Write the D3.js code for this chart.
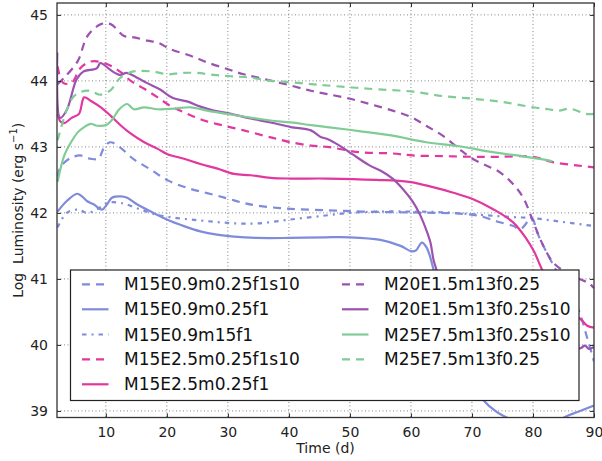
<!DOCTYPE html>
<html>
<head>
<meta charset="utf-8">
<script src="https://cdn.jsdelivr.net/npm/d3@7"></script>
<style>
  html, body { margin: 0; padding: 0; background: #fff; }
  svg { display: block; font-family: "DejaVu Sans", sans-serif; }
</style>
</head>
<body>
<svg id="chart" width="602" height="461"></svg>
<script>
// Light curves: time (days) vs log luminosity (erg/s)
const m15e09_s10 = [[2.1,42.55],[2.6,42.7],[4.2,42.83],[5.8,42.87],[7.5,42.82],[8.8,42.82],[9.65,42.98],[10.7,43.07],[12.1,43.01],[14.6,42.81],[17.3,42.66],[20,42.5],[23.3,42.38],[26.6,42.3],[29.9,42.22],[32.6,42.15],[34.8,42.11],[40.3,42.06],[46.3,42.04],[52,42.02],[58,42.01],[64,42.0],[68,41.99],[71.4,41.95],[74.1,41.87],[76.8,41.8],[77.9,41.75],[79.8,41.92],[80.7,41.7],[81.7,41.5],[82.8,41.3],[84,41.1],[86,40.8],[87.6,40.5],[88.9,40.1],[90,39.75]];
const m15e09 = [[2.1,42.02],[3.6,42.18],[5.3,42.29],[6.1,42.25],[6.9,42.18],[8.0,42.13],[9.4,42.05],[10.2,42.13],[11.0,42.23],[12.4,42.25],[13.5,42.23],[15.1,42.13],[17.8,42.0],[20,41.9],[22.8,41.8],[25.5,41.72],[28.2,41.67],[31,41.64],[34.8,41.62],[40,41.62],[46,41.63],[50,41.63],[55,41.59],[58.3,41.5],[60,41.42],[60.8,41.43],[61.8,41.55],[62.6,41.47],[63.7,41.14],[65,40.5],[67,39.9],[69.5,39.5],[71.8,39.17],[74.1,38.98],[75.7,38.9],[78,38.8],[83,38.8],[85.5,38.92],[87.2,38.98],[90,39.08]];
const m15e09_m15 = [[2.1,41.78],[3.6,42.0],[5.5,42.05],[6.9,42.0],[8.5,42.05],[10.2,42.15],[12.5,42.15],[15.7,42.05],[18.4,41.97],[21.7,41.92],[25,41.89],[28.3,41.86],[31.6,41.84],[34.8,41.84],[40.3,41.9],[46,41.96],[50,42.0],[55,42.02],[60,42.02],[65,42.01],[71.4,41.97],[76,41.94],[80,41.92],[84.3,41.87],[90,41.8]];
const m15e25_s10 = [[2.1,44.22],[3.0,43.97],[4.4,43.97],[5.8,44.19],[7.4,44.29],[9.0,44.29],[10.8,44.23],[12.5,44.13],[14.1,44.0],[16.3,43.88],[18.5,43.75],[20.6,43.62],[23.4,43.5],[26.1,43.4],[29.4,43.32],[32.6,43.25],[35.9,43.17],[38.1,43.12],[40.3,43.07],[43.6,43.02],[46.3,43.0],[51.5,42.92],[57,42.9],[60.3,42.87],[65.2,42.86],[70.1,42.85],[74.5,42.85],[80,42.85],[83.2,42.77],[87.1,42.72],[90,42.69]];
const m15e25 = [[2.1,43.5],[2.6,43.38],[3.2,43.36],[4.4,43.44],[5.6,43.5],[6.45,43.75],[7.5,43.7],[9.2,43.6],[10.8,43.47],[12.5,43.32],[14.1,43.2],[16.3,43.07],[18.5,42.97],[20.1,42.89],[22.8,42.82],[25.5,42.74],[28.3,42.67],[31,42.59],[33.7,42.57],[37,42.53],[40.3,42.52],[46.3,42.52],[54.3,42.5],[59.7,42.47],[63.6,42.39],[66.8,42.31],[70.1,42.21],[73.4,42.06],[76.7,41.86],[78.9,41.61],[80.2,41.41],[81.5,41.14],[83.5,40.8],[85.5,40.55],[87.8,40.39],[88.9,40.29],[90,40.26]];
const m20e15 = [[2.1,43.95],[3.2,44.05],[5.4,44.3],[7.0,44.68],[9.2,44.86],[10.8,44.86],[13.0,44.68],[14.6,44.66],[16.8,44.61],[18.5,44.58],[20.6,44.48],[23.9,44.38],[26.6,44.28],[29.9,44.18],[32.6,44.1],[35.9,44.03],[40.3,43.93],[43.6,43.85],[46.3,43.8],[50,43.73],[53.2,43.65],[57,43.55],[60.1,43.45],[62.5,43.32],[65.2,43.17],[67.9,42.97],[70.1,42.82],[72.3,42.72],[74.5,42.62],[76.5,42.46],[78.4,42.23],[80.1,41.85],[81.7,41.5],[83.4,41.24],[85.6,41.09],[87.8,40.99],[89.1,40.94],[90,40.86]];
const m20e15_s10 = [[2.05,44.43],[2.5,43.44],[3.6,43.56],[5.2,44.02],[6.3,44.14],[8.5,44.19],[9.1,44.27],[9.6,44.25],[10.7,44.17],[12.3,44.09],[13.4,44.12],[14.9,44.06],[16.7,43.97],[18.9,43.87],[21,43.74],[23.3,43.69],[25.5,43.61],[27.7,43.55],[30.5,43.5],[33.7,43.43],[37,43.37],[40.3,43.3],[43.6,43.25],[45.2,43.15],[46.3,43.12],[48.3,43.02],[50.4,42.89],[53.2,42.72],[55.4,42.62],[57,42.52],[58.6,42.37],[60.3,42.17],[61.5,41.97],[62.6,41.72],[63.2,41.55],[63.7,41.29],[64.3,41.1],[65.5,40.6],[67,40.3],[70,40.15],[75,40.05],[80,40.0],[85,39.97],[87.8,39.95],[88.5,39.99],[89.2,39.94],[90,39.97]];
const m25e75_s10 = [[2.1,42.47],[3.2,42.87],[4.3,43.07],[5.4,43.22],[6.45,43.3],[7.5,43.35],[8.6,43.32],[10,43.33],[11.1,43.42],[12.2,43.57],[13.5,43.65],[14.6,43.57],[16.3,43.6],[18.5,43.57],[21.2,43.58],[23.9,43.6],[26.6,43.55],[29.9,43.5],[33.2,43.45],[37,43.4],[40.3,43.37],[43.6,43.33],[46.3,43.3],[51.5,43.24],[57,43.17],[62.5,43.07],[67.9,43.01],[73.4,42.92],[78.9,42.85],[81.6,42.81],[83.2,42.78]];
const m25e75 = [[2.1,43.1],[3.6,43.56],[4.7,43.76],[6.1,43.84],[7.5,43.85],[9,43.79],[10.8,43.86],[12.3,44.04],[14.3,44.14],[15.7,44.15],[17.9,44.14],[20,44.1],[22.3,44.12],[25,44.12],[27.7,44.09],[30.5,44.07],[33.7,44.05],[37,44.0],[40.3,43.98],[43.6,43.95],[46.3,43.93],[50.4,43.9],[54.8,43.87],[60.1,43.84],[65.2,43.77],[70.1,43.73],[75,43.68],[80,43.6],[82.5,43.57],[84.3,43.55],[86,43.58],[88.7,43.5],[90,43.5]];

const seriesNames = ["M15E0.9m0.25f1s10","M15E0.9m0.25f1","M15E0.9m15f1","M15E2.5m0.25f1s10","M15E2.5m0.25f1","M20E1.5m13f0.25","M20E1.5m13f0.25s10","M25E7.5m13f0.25s10","M25E7.5m13f0.25"];
const seriesData = [m15e09_s10, m15e09, m15e09_m15, m15e25_s10, m15e25, m20e15, m20e15_s10, m25e75_s10, m25e75];
const seriesColor = ["#7f8bdb","#7f8bdb","#7f8bdb","#e2379f","#e2379f","#9c52b0","#9c52b0","#80cc96","#80cc96"];
const seriesStyle = ["dash","solid","dashdot","dash","solid","dash","solid","solid","dash"];

const xTicks = [10,20,30,40,50,60,70,80,90];
const yTicks = [39,40,41,42,43,44,45];

const dashes = { solid: null, dash: "8,6", dashdot: "4.5,5,2,5" };

const svg = d3.select("#chart");
const pLeft = 57, pRight = 594, pTop = 3, pBottom = 417.5;

const x = d3.scaleLinear().domain([2, 90]).range([pLeft, pRight]);
const y = d3.scaleLinear().domain([38.9, 45.18]).range([pBottom, pTop]);

svg.append("defs").append("clipPath").attr("id", "plotclip")
  .append("rect").attr("x", pLeft).attr("y", pTop).attr("width", pRight - pLeft).attr("height", pBottom - pTop);

// grid
const grid = svg.append("g").attr("stroke", "#666").attr("stroke-width", 0.8).attr("stroke-dasharray", "1,2.5");
xTicks.filter(t => t < 90).forEach(t => {
  grid.append("line").attr("x1", x(t)).attr("x2", x(t)).attr("y1", pTop).attr("y2", pBottom);
});
yTicks.forEach(t => {
  grid.append("line").attr("x1", pLeft).attr("x2", pRight).attr("y1", y(t)).attr("y2", y(t));
});

// curves
const line = d3.line().x(d => x(d[0])).y(d => y(d[1])).curve(d3.curveCatmullRom.alpha(0.5));
const curves = svg.append("g").attr("clip-path", "url(#plotclip)");
seriesData.forEach((data, i) => {
  curves.append("path")
    .attr("d", line(data))
    .attr("fill", "none")
    .attr("stroke", seriesColor[i])
    .attr("stroke-width", 2.2)
    .attr("stroke-linejoin", "round")
    .attr("stroke-dasharray", dashes[seriesStyle[i]]);
});

// axes with inward ticks on all sides
const xAxisB = d3.axisBottom(x).tickValues(xTicks).tickSizeInner(-4).tickSizeOuter(0).tickPadding(10).tickFormat(d3.format("d"));
const xAxisT = d3.axisTop(x).tickValues(xTicks).tickSizeInner(-4).tickSizeOuter(0).tickFormat("");
const yAxisL = d3.axisLeft(y).tickValues(yTicks).tickSizeInner(-4).tickSizeOuter(0).tickPadding(9).tickFormat(d3.format("d"));
const yAxisR = d3.axisRight(y).tickValues(yTicks).tickSizeInner(-4).tickSizeOuter(0).tickFormat("");

function styleAxis(g) {
  g.select(".domain").remove();
  g.selectAll(".tick line").attr("stroke", "#222").attr("stroke-width", 1);
  g.selectAll(".tick text").attr("fill", "#222").style("font-size", "14px").style("font-family", "DejaVu Sans");
}
svg.append("g").attr("transform", `translate(0,${pBottom})`).call(xAxisB).call(styleAxis);
svg.append("g").attr("transform", `translate(0,${pTop})`).call(xAxisT).call(styleAxis);
svg.append("g").attr("transform", `translate(${pLeft},0)`).call(yAxisL).call(styleAxis);
svg.append("g").attr("transform", `translate(${pRight},0)`).call(yAxisR).call(styleAxis);

// frame
svg.append("rect").attr("x", pLeft).attr("y", pTop).attr("width", pRight - pLeft).attr("height", pBottom - pTop)
  .attr("fill", "none").attr("stroke", "#333").attr("stroke-width", 1.3);

// axis labels
svg.append("text").attr("x", (pLeft + pRight) / 2).attr("y", 453).attr("text-anchor", "middle")
  .style("font-size", "14px").attr("fill", "#222").text("Time (d)");

const yl = svg.append("text").attr("transform", `translate(23,${(pTop + pBottom) / 2}) rotate(-90)`)
  .attr("text-anchor", "middle").style("font-size", "14px").style("white-space", "pre").attr("fill", "#222");
yl.append("tspan").text("Log  Luminosity (erg s");
yl.append("tspan").attr("dy", -6).style("font-size", "10px").text("\u22121");
yl.append("tspan").attr("dy", 6).text(")");

// legend
const lg = svg.append("g");
lg.append("rect").attr("x", 70.5).attr("y", 270).attr("width", 508.5).attr("height", 130.5)
  .attr("fill", "#fff").attr("stroke", "#222").attr("stroke-width", 1.2);
const rowY = [284.3, 309.3, 334.5, 359.3, 384.3];
seriesNames.forEach((name, i) => {
  const col = i < 5 ? 0 : 1;
  const row = i < 5 ? i : i - 5;
  const hx = col === 0 ? 82 : 342;
  const yy = rowY[row];
  lg.append("line").attr("x1", hx).attr("x2", hx + 26.5).attr("y1", yy).attr("y2", yy)
    .attr("stroke", seriesColor[i]).attr("stroke-width", 2.2)
    .attr("stroke-dasharray", dashes[seriesStyle[i]]);
  lg.append("text").attr("x", hx + 42).attr("y", yy + 6).style("font-size", "17px").attr("fill", "#111").text(name);
});
</script>
</body>
</html>
